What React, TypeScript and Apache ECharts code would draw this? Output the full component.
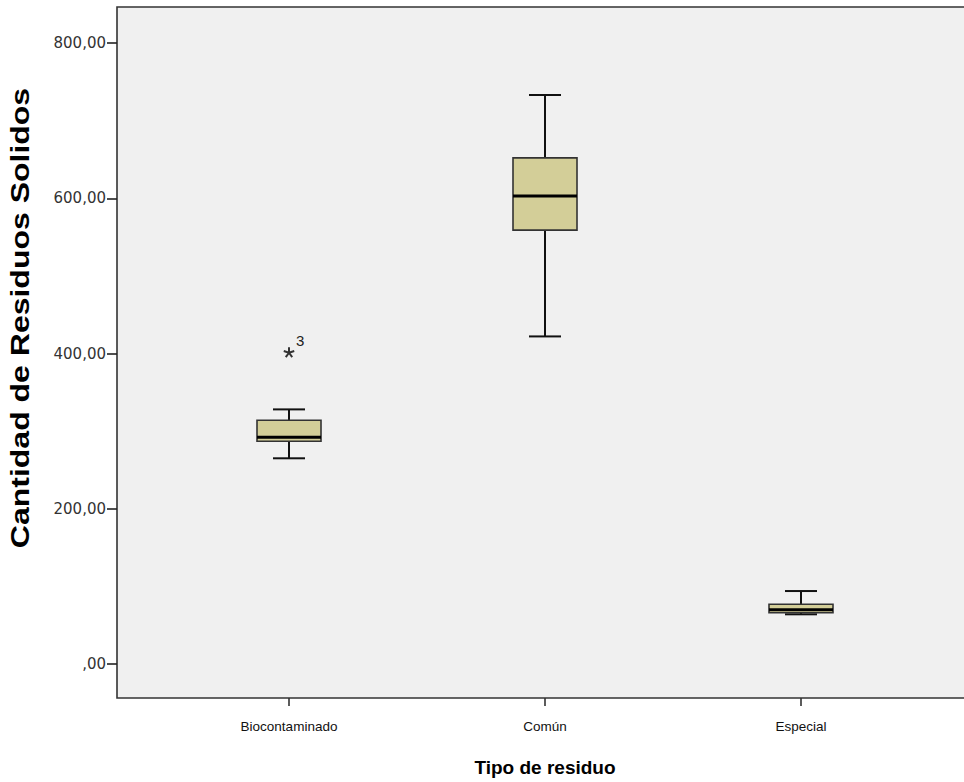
import React, { useEffect, useRef } from "react";
import * as echarts from "echarts";

const categories = ["Biocontaminado", "Común", "Especial"];
// [min, Q1, median, Q3, max]
const boxValues = [
  [265, 287, 292, 314, 328],
  [422, 559, 603, 652, 733],
  [64, 66, 70, 77, 94],
];
const outlierPoints = [[0, 401]];
const outlierLabels = ["3"];
const yTicks = [0, 200, 400, 600, 800];
const xTitle = "Tipo de residuo";
const yTitle = "Cantidad de Residuos Solidos";

const SANS = "Liberation Sans, Arial, sans-serif";

export default function App() {
  const ref = useRef<HTMLDivElement>(null);
  useEffect(() => {
    const chart = echarts.init(ref.current!, null, { renderer: "svg" });
    const boxData = boxValues.map((v, i) => [i, ...v]);
    const yMin = yTicks[0];
    const yMax = yTicks[yTicks.length - 1];
    chart.setOption({
      animation: false,
      backgroundColor: "#ffffff",
      graphic: [
        {
          type: "rect",
          z: 0,
          silent: true,
          shape: { x: 117, y: 7, width: 852, height: 691 },
          style: { fill: "#f0f0f0", stroke: "#333333", lineWidth: 1.6 },
        },
        {
          type: "text",
          z: 10,
          x: 20,
          y: 318,
          rotation: Math.PI / 2,
          scaleX: 1.28,
          style: {
            text: yTitle,
            align: "center",
            verticalAlign: "middle",
            fontSize: 25,
            fontWeight: "bold",
            fill: "#000",
            fontFamily: SANS,
          },
        },
      ],
      grid: [
        { left: 161, right: 35, top: 43, bottom: 118 },
        { left: 161, right: 35, top: 8, bottom: 84 },
        { left: 117, right: 35, top: 43, bottom: 118 },
      ],
      xAxis: [
        { type: "category", gridIndex: 0, data: categories, show: false },
        {
          type: "category",
          gridIndex: 1,
          data: categories,
          boundaryGap: true,
          axisLine: { show: false },
          axisTick: { show: true, alignWithLabel: true, length: 8, lineStyle: { color: "#333", width: 1.6 } },
          axisLabel: { margin: 21, fontSize: 13.5, color: "#111", fontFamily: SANS },
          splitLine: { show: false },
          name: xTitle,
          nameLocation: "middle",
          nameGap: 60,
          nameTextStyle: { fontSize: 19, fontWeight: "bold", color: "#000", fontFamily: SANS },
        },
        { type: "value", gridIndex: 2, show: false },
      ],
      yAxis: [
        { type: "value", gridIndex: 0, min: yMin, max: yMax, show: false },
        { type: "value", gridIndex: 1, show: false },
        {
          type: "value",
          gridIndex: 2,
          min: yMin,
          max: yMax,
          interval: 200,
          axisLine: { show: false },
          axisTick: { show: true, length: 10, lineStyle: { color: "#222", width: 1.6 } },
          axisLabel: {
            margin: 11,
            fontSize: 15,
            color: "#333",
            fontFamily: "DejaVu Sans, Verdana, sans-serif",
            formatter: (v: number) => (v === 0 ? ",00" : v + ",00"),
          },
          splitLine: { show: false },
        },
      ],
      series: [
        {
          type: "custom",
          xAxisIndex: 0,
          yAxisIndex: 0,
          z: 5,
          data: boxData,
          encode: { x: 0, y: [1, 2, 3, 4, 5] },
          renderItem: (params: any, api: any) => {
            const idx = api.value(0);
            const pMin = api.coord([idx, api.value(1)]);
            const pQ1 = api.coord([idx, api.value(2)]);
            const pMed = api.coord([idx, api.value(3)]);
            const pQ3 = api.coord([idx, api.value(4)]);
            const pMax = api.coord([idx, api.value(5)]);
            const cx = pMed[0];
            const hb = 32;
            const hc = 16;
            const whisker = { stroke: "#111", lineWidth: 2 };
            return {
              type: "group",
              children: [
                { type: "line", shape: { x1: cx, y1: pMax[1], x2: cx, y2: pQ3[1] }, style: whisker },
                { type: "line", shape: { x1: cx, y1: pQ1[1], x2: cx, y2: pMin[1] }, style: whisker },
                { type: "line", shape: { x1: cx - hc, y1: pMax[1], x2: cx + hc, y2: pMax[1] }, style: whisker },
                { type: "line", shape: { x1: cx - hc, y1: pMin[1], x2: cx + hc, y2: pMin[1] }, style: whisker },
                {
                  type: "rect",
                  shape: { x: cx - hb, y: pQ3[1], width: hb * 2, height: pQ1[1] - pQ3[1] },
                  style: { fill: "#d3ce98", stroke: "#333", lineWidth: 1.6 },
                },
                {
                  type: "line",
                  shape: { x1: cx - hb, y1: pMed[1], x2: cx + hb, y2: pMed[1] },
                  style: { stroke: "#000", lineWidth: 3 },
                },
              ],
            };
          },
        },
        {
          type: "custom",
          xAxisIndex: 0,
          yAxisIndex: 0,
          z: 6,
          data: outlierPoints,
          encode: { x: 0, y: 1 },
          renderItem: (params: any, api: any) => {
            const p = api.coord([api.value(0), api.value(1)]);
            const arms = [];
            for (let k = 0; k < 5; k++) {
              const a = -Math.PI / 2 + (k * 2 * Math.PI) / 5;
              arms.push({
                type: "line",
                shape: { x1: p[0], y1: p[1], x2: p[0] + 5.5 * Math.cos(a), y2: p[1] + 5.5 * Math.sin(a) },
                style: { stroke: "#333", lineWidth: 2 },
              });
            }
            return {
              type: "group",
              children: [
                ...arms,
                {
                  type: "text",
                  x: p[0] + 7,
                  y: p[1] - 20,
                  style: {
                    text: outlierLabels[params.dataIndex],
                    fontSize: 15,
                    fill: "#222",
                    fontFamily: SANS,
                  },
                },
              ],
            };
          },
        },
      ],
    });
    return () => chart.dispose();
  }, []);
  return <div ref={ref} style={{ width: 964, height: 782, position: "absolute", left: 0, top: 0 }} />;
}
